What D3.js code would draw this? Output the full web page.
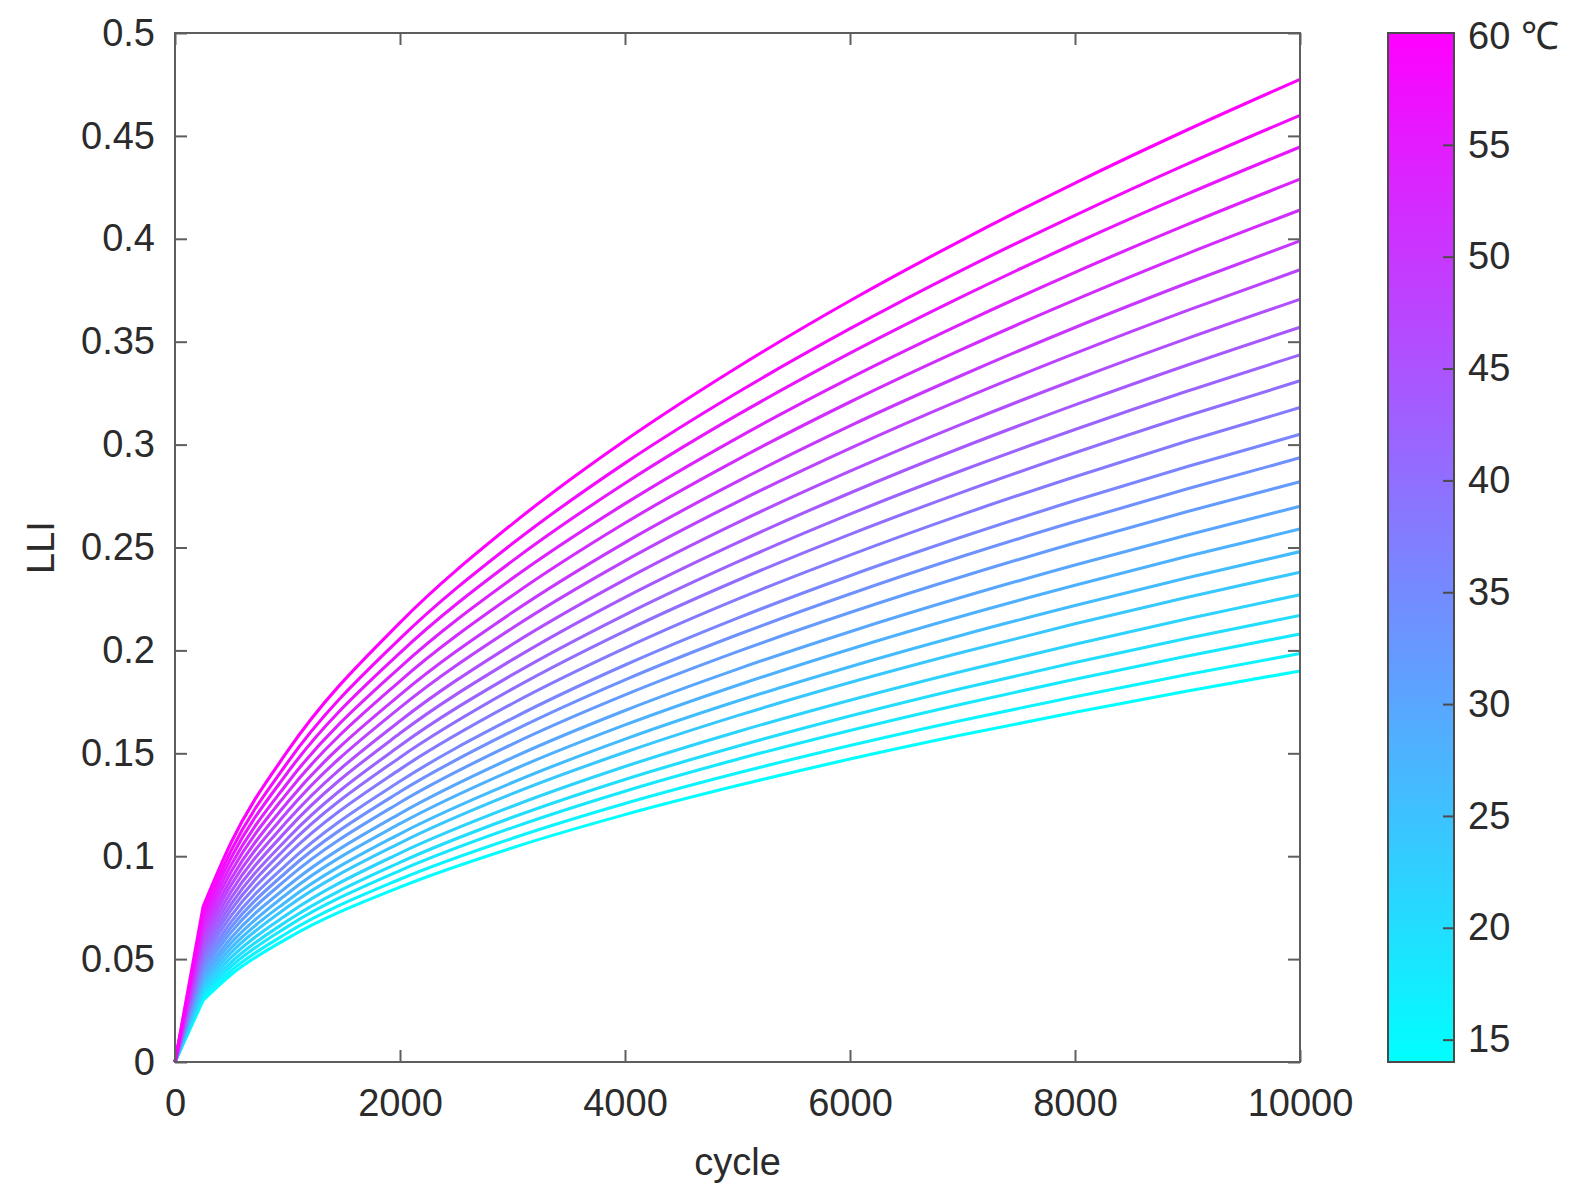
<!DOCTYPE html>
<html>
<head>
<meta charset="utf-8">
<script src="https://cdn.jsdelivr.net/npm/d3@7"></script>
<style>
  html, body { margin: 0; padding: 0; background: #fff; }
  svg { display: block; }
  text { font-family: "Liberation Sans", Arial, Helvetica, sans-serif; fill: #2b2b2b; }
</style>
</head>
<body>
<svg id="chart" width="1578" height="1200"></svg>
<script>
// ---- data ----
const cycles = [0, 250, 500, 1000, 2000, 3000, 4000, 5000, 6000, 7000, 8000, 9000, 10000];
const temps = [14, 16, 18, 20, 22, 24, 26, 28, 30, 32, 34, 36, 38, 40, 42, 44, 46, 48, 50, 52, 54, 56, 58, 60];
const lli14 = [0, 0.0300, 0.0425, 0.0601, 0.0850, 0.1041, 0.1202, 0.1343, 0.1472, 0.1590, 0.1699, 0.1803, 0.1900];
const lli16 = [0, 0.0314, 0.0444, 0.0628, 0.0888, 0.1087, 0.1256, 0.1404, 0.1538, 0.1661, 0.1775, 0.1883, 0.1985];
const lli18 = [0, 0.0329, 0.0465, 0.0658, 0.0930, 0.1139, 0.1316, 0.1471, 0.1611, 0.1740, 0.1860, 0.1973, 0.2080];
const lli20 = [0, 0.0343, 0.0485, 0.0686, 0.0970, 0.1189, 0.1373, 0.1534, 0.1681, 0.1816, 0.1941, 0.2059, 0.2170];
const lli22 = [0, 0.0359, 0.0508, 0.0718, 0.1015, 0.1243, 0.1436, 0.1605, 0.1758, 0.1899, 0.2030, 0.2154, 0.2270];
const lli24 = [0, 0.0376, 0.0532, 0.0753, 0.1064, 0.1304, 0.1505, 0.1683, 0.1844, 0.1991, 0.2129, 0.2258, 0.2380];
const lli26 = [0, 0.0392, 0.0555, 0.0784, 0.1109, 0.1358, 0.1569, 0.1754, 0.1921, 0.2075, 0.2218, 0.2353, 0.2480];
const lli28 = [0, 0.0409, 0.0579, 0.0819, 0.1158, 0.1419, 0.1638, 0.1831, 0.2006, 0.2167, 0.2316, 0.2457, 0.2590];
const lli30 = [0, 0.0427, 0.0604, 0.0854, 0.1207, 0.1479, 0.1708, 0.1909, 0.2091, 0.2259, 0.2415, 0.2561, 0.2700];
const lli32 = [0, 0.0446, 0.0631, 0.0892, 0.1261, 0.1545, 0.1784, 0.1994, 0.2184, 0.2359, 0.2522, 0.2675, 0.2820];
const lli34 = [0, 0.0464, 0.0656, 0.0928, 0.1313, 0.1608, 0.1857, 0.2076, 0.2274, 0.2457, 0.2626, 0.2785, 0.2936];
const lli36 = [0, 0.0482, 0.0682, 0.0964, 0.1364, 0.1670, 0.1929, 0.2157, 0.2363, 0.2552, 0.2728, 0.2894, 0.3050];
const lli38 = [0, 0.0503, 0.0711, 0.1006, 0.1422, 0.1742, 0.2011, 0.2249, 0.2463, 0.2661, 0.2844, 0.3017, 0.3180];
const lli40 = [0, 0.0523, 0.0740, 0.1047, 0.1480, 0.1813, 0.2094, 0.2341, 0.2564, 0.2769, 0.2960, 0.3140, 0.3310];
const lli42 = [0, 0.0543, 0.0768, 0.1086, 0.1537, 0.1882, 0.2173, 0.2430, 0.2662, 0.2875, 0.3073, 0.3260, 0.3436];
const lli44 = [0, 0.0564, 0.0798, 0.1129, 0.1597, 0.1955, 0.2258, 0.2524, 0.2765, 0.2987, 0.3193, 0.3387, 0.3570];
const lli46 = [0, 0.0586, 0.0829, 0.1172, 0.1657, 0.2030, 0.2344, 0.2621, 0.2871, 0.3101, 0.3315, 0.3516, 0.3706];
const lli48 = [0, 0.0609, 0.0861, 0.1217, 0.1722, 0.2109, 0.2435, 0.2722, 0.2982, 0.3221, 0.3443, 0.3652, 0.3850];
const lli50 = [0, 0.0631, 0.0892, 0.1262, 0.1784, 0.2185, 0.2524, 0.2821, 0.3091, 0.3338, 0.3569, 0.3785, 0.3990];
const lli52 = [0, 0.0655, 0.0926, 0.1309, 0.1851, 0.2267, 0.2619, 0.2927, 0.3207, 0.3464, 0.3703, 0.3928, 0.4140];
const lli54 = [0, 0.0678, 0.0959, 0.1356, 0.1918, 0.2350, 0.2713, 0.3033, 0.3323, 0.3589, 0.3837, 0.4070, 0.4290];
const lli56 = [0, 0.0703, 0.0994, 0.1406, 0.1988, 0.2435, 0.2812, 0.3144, 0.3444, 0.3720, 0.3977, 0.4218, 0.4446];
const lli58 = [0, 0.0727, 0.1029, 0.1455, 0.2057, 0.2519, 0.2910, 0.3253, 0.3563, 0.3849, 0.4114, 0.4364, 0.4600];
const lli60 = [0, 0.0755, 0.1068, 0.1510, 0.2135, 0.2615, 0.3020, 0.3376, 0.3699, 0.3995, 0.4271, 0.4530, 0.4775];
const seriesList = [lli14, lli16, lli18, lli20, lli22, lli24, lli26, lli28, lli30, lli32, lli34, lli36,
                    lli38, lli40, lli42, lli44, lli46, lli48, lli50, lli52, lli54, lli56, lli58, lli60];

const xTicks = [0, 2000, 4000, 6000, 8000, 10000];
const xTickLabels = ["0", "2000", "4000", "6000", "8000", "10000"];
const yTicks = [0, 0.05, 0.1, 0.15, 0.2, 0.25, 0.3, 0.35, 0.4, 0.45, 0.5];
const yTickLabels = ["0", "0.05", "0.1", "0.15", "0.2", "0.25", "0.3", "0.35", "0.4", "0.45", "0.5"];
const cbTicks = [15, 20, 25, 30, 35, 40, 45, 50, 55, 60];
const cbTickLabels = ["15", "20", "25", "30", "35", "40", "45", "50", "55", "60 \u2103"];
const cbDomain = [14, 60];
const xLabel = "cycle";
const yLabel = "LLI";

// ---- layout ----
const L = 175, R = 1300, T = 33, B = 1062;
const cbL = 1388, cbR = 1454;
const axisColor = "#5e5e5e";
const fontSize = 38;

const svg = d3.select("#chart");
const x = d3.scaleLinear().domain([0, 10000]).range([L, R]);
const y = d3.scaleLinear().domain([0, 0.5]).range([B, T]);
const cb = d3.scaleLinear().domain(cbDomain).range([B, T]);
const color = d3.scaleLinear().domain(cbDomain).range(["#00ffff", "#ff00ff"]).interpolate(d3.interpolateRgb);

// ---- lines ----
const lineLin = d3.line().x(d => x(d[0])).y(d => y(d[1]));
const lineMono = d3.line().curve(d3.curveMonotoneX).x(d => x(d[0])).y(d => y(d[1]));
const gLines = svg.append("g");
seriesList.forEach((vals, i) => {
  const pts = cycles.map((c, j) => [c, vals[j]]);
  const d = lineLin(pts.slice(0, 2)) + lineMono(pts.slice(1)).replace(/^M/, "L");
  gLines.append("path")
    .attr("d", d)
    .attr("fill", "none")
    .attr("stroke", color(temps[i]))
    .attr("stroke-width", 3.1)
    .attr("stroke-linejoin", "round");
});

// ---- axes ----
const tickLen = 12;
const gAx = svg.append("g");
gAx.append("rect").attr("x", L).attr("y", T).attr("width", R - L).attr("height", B - T)
  .attr("fill", "none").attr("stroke", axisColor).attr("stroke-width", 2);

const yAxisL = d3.axisLeft(y).tickValues(yTicks).tickSize(-tickLen).tickPadding(20)
  .tickFormat((d, i) => yTickLabels[i]);
const gy = gAx.append("g").attr("transform", `translate(${L},0)`).call(yAxisL);
const yAxisR = d3.axisRight(y).tickValues(yTicks).tickSize(-tickLen).tickFormat("");
const gyr = gAx.append("g").attr("transform", `translate(${R},0)`).call(yAxisR);
const xAxisB = d3.axisBottom(x).tickValues(xTicks).tickSize(-tickLen).tickPadding(27)
  .tickFormat((d, i) => xTickLabels[i]);
const gx = gAx.append("g").attr("transform", `translate(0,${B})`).call(xAxisB);
const xAxisT = d3.axisTop(x).tickValues(xTicks).tickSize(-tickLen).tickFormat("");
const gxt = gAx.append("g").attr("transform", `translate(0,${T})`).call(xAxisT);

[gy, gyr, gx, gxt].forEach(g => {
  g.select(".domain").remove();
  g.selectAll(".tick line").attr("stroke", axisColor).attr("stroke-width", 2);
  g.selectAll(".tick text").style("font-size", fontSize + "px")
    .style("font-family", '"Liberation Sans", Arial, sans-serif').attr("fill", "#2b2b2b");
});

svg.append("text").attr("x", (L + R) / 2).attr("y", 1175)
  .attr("text-anchor", "middle").style("font-size", fontSize + "px").text(xLabel);
svg.append("text").attr("transform", `translate(54,${(T + B) / 2}) rotate(-90)`)
  .attr("text-anchor", "middle").style("font-size", fontSize + "px").text(yLabel);

// ---- colorbar ----
const defs = svg.append("defs");
const grad = defs.append("linearGradient").attr("id", "cbgrad")
  .attr("x1", 0).attr("y1", 1).attr("x2", 0).attr("y2", 0);
grad.append("stop").attr("offset", "0%").attr("stop-color", color(cbDomain[0]));
grad.append("stop").attr("offset", "100%").attr("stop-color", color(cbDomain[1]));
svg.append("rect").attr("x", cbL).attr("y", T).attr("width", cbR - cbL).attr("height", B - T)
  .attr("fill", "url(#cbgrad)").attr("stroke", "#4a4a4a").attr("stroke-width", 2);

const cbAxis = d3.axisRight(cb).tickValues(cbTicks).tickSize(-11).tickPadding(14)
  .tickFormat((d, i) => cbTickLabels[i]);
const gcb = svg.append("g").attr("transform", `translate(${cbR},0)`).call(cbAxis);
gcb.select(".domain").remove();
gcb.selectAll(".tick line").attr("stroke", "#4a4a4a").attr("stroke-width", 2)
  .attr("opacity", d => d === 60 ? 0 : 1);
gcb.selectAll(".tick text").style("font-size", fontSize + "px")
  .style("font-family", '"Liberation Sans", Arial, sans-serif').attr("fill", "#2b2b2b")
  .attr("dy", d => d === 60 ? "0.4em" : "0.32em");
</script>
</body>
</html>
